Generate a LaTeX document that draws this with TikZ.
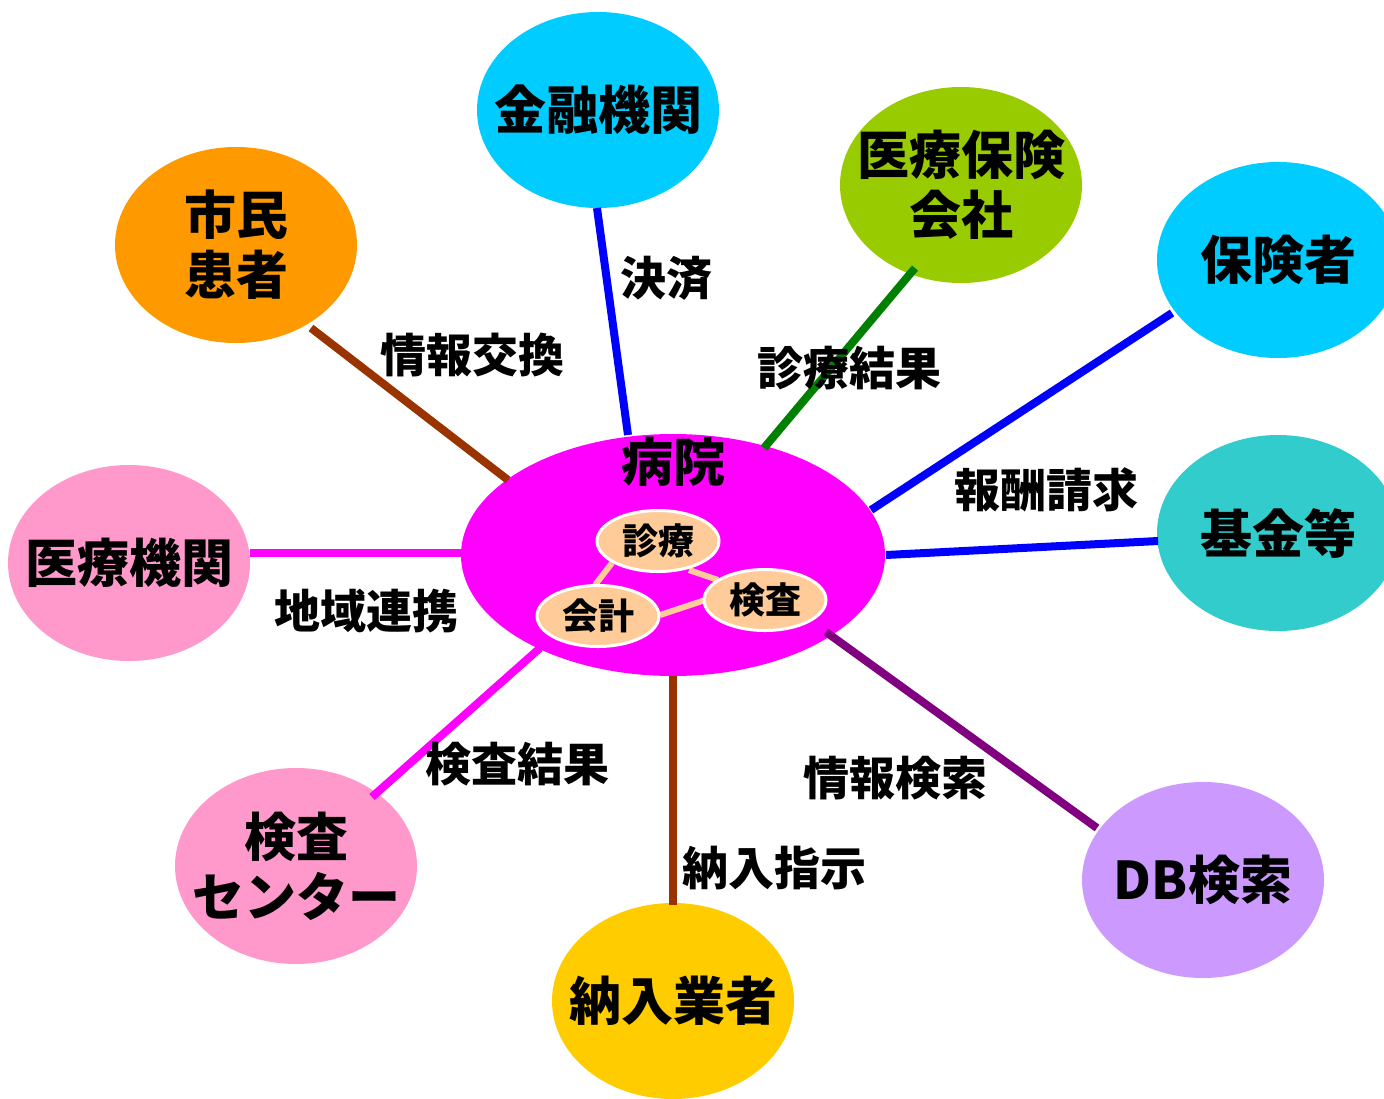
\documentclass[tikz,border=0pt]{standalone}
\usepackage{fontspec}
\setmainfont{Noto Sans CJK JP}
\usetikzlibrary{shapes.geometric,calc}
\definecolor{cCyan}{HTML}{00CCFF}
\definecolor{cOrange}{HTML}{FF9900}
\definecolor{cYG}{HTML}{99CC00}
\definecolor{cTeal}{HTML}{33CCCC}
\definecolor{cPink}{HTML}{FF99CC}
\definecolor{cGold}{HTML}{FFCC00}
\definecolor{cLav}{HTML}{CC99FF}
\definecolor{cMag}{HTML}{FF00FF}
\definecolor{cPeach}{HTML}{FFCC99}
\definecolor{cBrown}{HTML}{993300}
\definecolor{cBlue}{HTML}{0000FF}
\definecolor{cGreen}{HTML}{008000}
\definecolor{cPurple}{HTML}{800080}
\tikzset{
  outer/.style={ellipse,minimum width=242pt,minimum height=196pt,inner sep=0pt},
  otext/.style={font=\bfseries\fontsize{52}{60}\selectfont,align=center,inner sep=0pt},
  hosp/.style={ellipse,fill=cMag,minimum width=424pt,minimum height=242pt,inner sep=0pt},
  inner/.style={ellipse,fill=cPeach,draw=white,line width=3pt,minimum width=122pt,
    minimum height=61pt,inner sep=0pt,font=\bfseries\fontsize{36}{40}\selectfont},
  conn/.style={line width=8pt},
  innerconn/.style={line width=6pt,draw=cPeach},
  lbl/.style={font=\bfseries\fontsize{46}{50}\selectfont,inner sep=0pt},
  titlelbl/.style={font=\bfseries\fontsize{52}{56}\selectfont,inner sep=0pt}
}
\begin{document}
\begin{tikzpicture}[x=1pt,y=-1pt]
\useasboundingbox (0,0) rectangle (1384,1098);
\clip (0,0) rectangle (1384,1098);
% outer nodes
\node[outer,fill=cCyan,label={[otext]center:金融機関}]   (kin)  at (598,110)  {};
\node[outer,fill=cOrange,label={[otext]center:市民\\患者}] (shi)  at (236,245)  {};
\node[outer,fill=cYG,label={[otext]center:医療保険\\会社}]     (iho)  at (961,185)  {};
\node[outer,fill=cCyan,label={[otext]center:保険者}]   (hok)  at (1278,260) {};
\node[outer,fill=cTeal,label={[otext]center:基金等}]   (kik)  at (1278,533) {};
\node[outer,fill=cPink,label={[otext]center:医療機関}]   (iry)  at (129,563)  {};
\node[outer,fill=cPink,label={[otext]center:検査\\センター}]   (ken)  at (296,866)  {};
\node[outer,fill=cGold,label={[otext]center:納入業者}]   (nou)  at (673,1001) {};
\node[outer,fill=cLav,label={[otext]center:DB検索}]    (db)   at (1203,880) {};
% hospital
\node[hosp] (byo) at (673,555) {};
\node[titlelbl] (byot) at (673,462) {病院};
% inner connectors
\draw[innerconn] ($(658,541)+(-46,22)$) -- ($(598,616)+(-3,-31)$);
\draw[innerconn] ($(658,541)+(31,29)$) -- ($(765,600)+(-47,-20)$);
\draw[innerconn] ($(598,616)+(62,-1)$) -- ($(765,600)+(-60,0)$);
\node[inner] (shin) at (658,541) {診療};
\node[inner] (kens) at (765,600) {検査};
\node[inner] (kai)  at (598,616) {会計};
% connectors
\draw[conn,cBrown]  ($(shi.center)+(75,83)$)  -- ($(byo.center)+(-165,-75)$);
\draw[conn,cBlue]   ($(kin.center)+(-1,98)$)  -- ($(byo.center)+(-45,-120)$);
\draw[conn,cGreen]  ($(iho.center)+(-46,83)$) -- ($(byo.center)+(91,-107)$);
\draw[conn,cBlue]   ($(hok.center)+(-106,53)$) -- ($(byo.center)+(198,-45)$);
\draw[conn,cBlue]   ($(kik.center)+(-120,8)$) -- ($(byo.center)+(213,0)$);
\draw[conn,cMag]    ($(iry.center)+(121,-10)$) -- ($(byo.center)+(-210,-2)$);
\draw[conn,cMag]    ($(ken.center)+(76,-69)$) -- ($(byo.center)+(-133,93)$);
\draw[conn,cBrown]  ($(nou.center)+(0,-96)$)  -- ($(byo.center)+(0,121)$);
\draw[conn,cPurple] ($(db.center)+(-106,-52)$) -- ($(byo.center)+(153,77)$);
% connector labels
\node[lbl] (l1) at (472,355) {情報交換};
\node[lbl] (l2) at (666,278) {決済};
\node[lbl] (l3) at (849,368) {診療結果};
\node[lbl] (l4) at (1046,490) {報酬請求};
\node[lbl] (l5) at (366,611) {地域連携};
\node[lbl] (l6) at (517,764) {検査結果};
\node[lbl] (l7) at (895,778) {情報検索};
\node[lbl] (l8) at (774,868) {納入指示};
\end{tikzpicture}
\end{document}
